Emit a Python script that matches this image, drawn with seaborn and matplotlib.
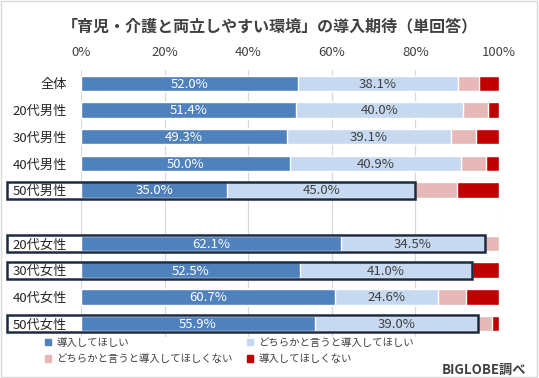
import pandas as pd
import numpy as np
import matplotlib.pyplot as plt
from matplotlib.patches import Rectangle
import seaborn as sns

# data (%)
groups = ['全体', '20代男性', '30代男性', '40代男性', '50代男性',
          '20代女性', '30代女性', '40代女性', '50代女性']
want = [52.0, 51.4, 49.3, 50.0, 35.0, 62.1, 52.5, 60.7, 55.9]
rather_want = [38.1, 40.0, 39.1, 40.9, 45.0, 34.5, 41.0, 24.6, 39.0]
rather_not = [5.2, 5.9, 6.0, 6.1, 10.0, 3.4, 0.0, 6.7, 3.5]
not_want = [4.7, 2.7, 5.6, 3.0, 10.0, 0.0, 6.5, 8.0, 1.6]
highlighted = ['50代男性', '20代女性', '30代女性', '50代女性']

series_names = ['導入してほしい', 'どちらかと言うと導入してほしい',
                'どちらかと言うと導入してほしくない', '導入してほしくない']
colors = ['#4f81bd', '#c6d9f1', '#e6b9b8', '#c00000']

order = groups[:5] + [' '] + groups[5:]

df = pd.DataFrame({'group': groups, 'want': want, 'rather_want': rather_want,
                   'rather_not': rather_not, 'not_want': not_want})
cols = ['want', 'rather_want', 'rather_not', 'not_want']
cum = df[cols].cumsum(axis=1)

sns.set_theme(style='white')
plt.rcParams['font.family'] = ['Noto Sans CJK JP', 'DejaVu Sans']

fig = plt.figure(figsize=(5.39, 3.78), dpi=100)
ax = fig.add_axes([0.1503, 0.1085, 0.7755, 0.7063])

# draw stacked bars back to front using cumulative totals
for i in range(3, -1, -1):
    plot_df = pd.DataFrame({'group': df['group'], 'value': cum[cols[i]]})
    sns.barplot(data=plot_df, x='value', y='group', order=order, orient='h',
                color=colors[i], width=0.58, errorbar=None, saturation=1,
                ax=ax, zorder=2)

ax.set_ylim(9.5, -0.5)
ax.set_xlim(0, 100)
ax.set_xticks(np.arange(0, 101, 20))
ax.set_xticklabels([f'{t}%' for t in range(0, 101, 20)])
ax.xaxis.tick_top()
ax.tick_params(axis='x', length=0, pad=8, labelsize=9.5, colors='#404040')
ax.tick_params(axis='y', length=0, pad=10, labelsize=9.5, colors='#262626')
ax.set_xlabel('')
ax.set_ylabel('')
ax.grid(axis='x', color='#d9d9d9', linewidth=0.9, zorder=0)
ax.set_axisbelow(True)
for s in ax.spines.values():
    s.set_visible(False)

# value labels on the first two segments
for _, row in df.iterrows():
    y = order.index(row['group'])
    ax.text(row['want'] / 2, y + 0.03, f"{row['want']:.1f}%", ha='center', va='center',
            color='white', fontsize=9.5)
    ax.text(row['want'] + row['rather_want'] / 2, y + 0.03, f"{row['rather_want']:.1f}%",
            ha='center', va='center', color='#404040', fontsize=9.5)

# highlight boxes around label + first two segments
for g in highlighted:
    y = order.index(g)
    r = df[df['group'] == g].iloc[0]
    right = r['want'] + r['rather_want']
    ax.add_patch(Rectangle((-17.6, y - 0.32), right + 17.6, 0.64, fill=False,
                           edgecolor='#1c2b40', linewidth=1.8, clip_on=False, zorder=5))

# legend
handles = [plt.Rectangle((0, 0), 1, 1, color=c) for c in colors]
idx = [0, 2, 1, 3]
fig.legend([handles[i] for i in idx], [series_names[i] for i in idx],
           ncol=2, loc='upper left', bbox_to_anchor=(0.0835, 0.1065), frameon=False,
           borderaxespad=0, borderpad=0,
           fontsize=7.5, handlelength=0.6, handleheight=0.6, handletextpad=0.5,
           columnspacing=1.35, labelspacing=0.6, labelcolor='#404040')

fig.text(0.5, 0.931, '「育児・介護と両立しやすい環境」の導入期待（単回答）', ha='center',
         va='center', fontsize=11.5, fontweight='bold', color='#404040')
fig.text(0.976, 0.021, 'BIGLOBE調べ', ha='right', va='center', fontsize=9.5,
         fontweight='bold', color='#404040')

fig.patches.append(Rectangle((0.002, 0.003), 0.995, 0.994, transform=fig.transFigure,
                             fill=False, edgecolor='#d9d9d9', linewidth=1))

fig.savefig('out.png', dpi=100)
